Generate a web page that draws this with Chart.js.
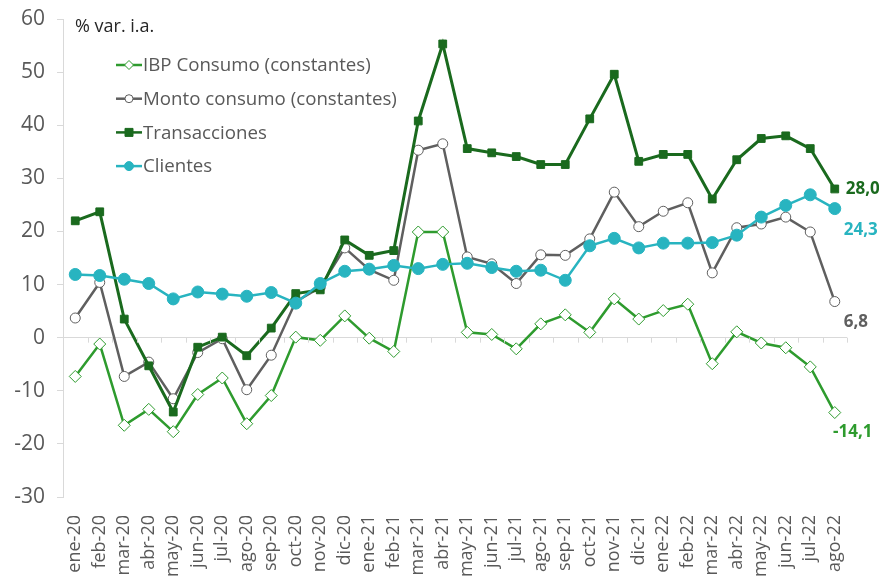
<!DOCTYPE html>
<html lang="es">
<head>
<meta charset="UTF-8">
<title>% var. i.a.</title>
<style>
  * { margin: 0; padding: 0; box-sizing: border-box; }
  body { background: #fff; width: 879px; height: 577px; overflow: hidden; }
  .wrap { position: relative; width: 879px; height: 577px; }
</style>
</head>
<body>
<div class="wrap"><canvas id="chart" width="879" height="577"></canvas></div>
<script src="https://cdn.jsdelivr.net/npm/chart.js"></script>
<script>
const months = ['ene-20','feb-20','mar-20','abr-20','may-20','jun-20','jul-20','ago-20','sep-20','oct-20','nov-20','dic-20',
  'ene-21','feb-21','mar-21','abr-21','may-21','jun-21','jul-21','ago-21','sep-21','oct-21','nov-21','dic-21',
  'ene-22','feb-22','mar-22','abr-22','may-22','jun-22','jul-22','ago-22'];

const ibpConsumo = [-7.3,-1.2,-16.5,-13.5,-17.7,-10.7,-7.6,-16.2,-10.9,0.1,-0.5,4.1,
  -0.1,-2.6,19.9,19.9,1.0,0.6,-2.1,2.6,4.3,1.0,7.3,3.5,
  5.1,6.3,-4.9,1.1,-1.0,-1.9,-5.5,-14.1];
const montoConsumo = [3.7,10.4,-7.3,-4.6,-11.5,-2.8,-0.2,-9.8,-3.3,6.8,9.5,16.9,
  12.8,10.8,35.3,36.5,15.2,13.9,10.2,15.6,15.5,18.6,27.4,20.9,
  23.8,25.4,12.2,20.7,21.4,22.7,19.9,6.8];
const transacciones = [22.0,23.7,3.5,-5.3,-14.0,-1.8,0.1,-3.4,1.8,8.3,9.0,18.4,
  15.5,16.4,40.8,55.3,35.6,34.8,34.1,32.6,32.6,41.2,49.6,33.2,
  34.5,34.5,26.1,33.5,37.5,38.0,35.6,28.0];
const clientes = [11.9,11.7,11.0,10.2,7.3,8.6,8.2,7.8,8.5,6.5,10.2,12.5,
  12.9,13.6,13.0,13.8,14.0,13.2,12.5,12.7,10.8,17.3,18.7,16.9,
  17.8,17.8,17.9,19.3,22.7,24.9,26.9,24.3];

const yTicks = [-30,-20,-10,0,10,20,30,40,50,60];

const cIbp = '#2e9b2e';
const cMonto = '#5f5f5f';
const cTrans = '#1a6a1e';
const cCli = '#28b4c0';

const FONT = "'Open Sans', 'Noto Sans', sans-serif";

// legend + title + last-value labels + zero-line ticks
const extras = {
  id: 'extras',
  afterDraw(chart) {
    const ctx = chart.ctx;
    const x = chart.scales.x, y = chart.scales.y;
    ctx.save();

    // small tick marks along the zero line
    const y0 = y.getPixelForValue(0);
    const half = (x.getPixelForValue(1) - x.getPixelForValue(0)) / 2;
    ctx.strokeStyle = '#d9d9d9';
    ctx.lineWidth = 1;
    for (let i = 0; i <= months.length; i++) {
      const px = Math.round(x.getPixelForValue(i) - half) + 0.5;
      ctx.beginPath();
      ctx.moveTo(px, y0);
      ctx.lineTo(px, y0 + 5);
      ctx.stroke();
    }

    // title
    ctx.fillStyle = '#262626';
    ctx.font = "18px " + FONT;
    ctx.textBaseline = 'middle';
    ctx.textAlign = 'left';
    ctx.fillText('% var. i.a.', 75, 27);

    // legend, in the original order
    chart.data.datasets.forEach((ds, i) => {
      const ly = 65 + i * 33.7;
      ctx.strokeStyle = ds.borderColor;
      ctx.lineWidth = 2.5;
      ctx.beginPath();
      ctx.moveTo(116, ly);
      ctx.lineTo(142, ly);
      ctx.stroke();
      const cx = 129;
      ctx.fillStyle = ds.pointBackgroundColor;
      ctx.strokeStyle = ds.pointBorderColor;
      ctx.lineWidth = 1;
      ctx.beginPath();
      if (ds.pointStyle === 'rectRot') {
        ctx.moveTo(cx, ly - 4.5); ctx.lineTo(cx + 4.5, ly); ctx.lineTo(cx, ly + 4.5); ctx.lineTo(cx - 4.5, ly); ctx.closePath();
      } else if (ds.pointStyle === 'rect') {
        ctx.rect(cx - 4, ly - 4, 8, 8);
      } else {
        ctx.arc(cx, ly, ds.label === 'Clientes' ? 4.5 : 4, 0, Math.PI * 2);
      }
      ctx.fill();
      ctx.stroke();
      ctx.fillStyle = '#595959';
      ctx.font = "18.7px " + FONT;
      ctx.fillText(ds.label, 143, ly + 1);
    });

    // last-value labels
    const last = months.length - 1;
    const lx = x.getPixelForValue(last);
    const labels = [
      { v: transacciones[last], c: cTrans, dx: 11, dy: 0, align: 'left' },
      { v: clientes[last], c: cCli, dx: 9, dy: 22, align: 'left' },
      { v: montoConsumo[last], c: cMonto, dx: 9, dy: 21, align: 'left' },
      { v: ibpConsumo[last], c: cIbp, dx: 18, dy: 20, align: 'center' }
    ];
    ctx.font = "bold 17px " + FONT;
    labels.forEach(l => {
      ctx.fillStyle = l.c;
      ctx.textAlign = l.align;
      ctx.fillText(l.v.toFixed(1).replace('.', ','), lx + l.dx, y.getPixelForValue(l.v) + l.dy);
    });
    ctx.restore();
  }
};

new Chart(document.getElementById('chart'), {
  type: 'line',
  data: {
    labels: months,
    datasets: [
      { label: 'IBP Consumo (constantes)', data: ibpConsumo, borderColor: cIbp, borderWidth: 2.5, order: 4,
        pointStyle: 'rectRot', pointRadius: 6, pointBackgroundColor: '#ffffff', pointBorderColor: cIbp, pointBorderWidth: 1 },
      { label: 'Monto consumo (constantes)', data: montoConsumo, borderColor: cMonto, borderWidth: 2.5, order: 3,
        pointStyle: 'circle', pointRadius: 5, pointBackgroundColor: '#ffffff', pointBorderColor: cMonto, pointBorderWidth: 1 },
      { label: 'Transacciones', data: transacciones, borderColor: cTrans, borderWidth: 3, order: 2,
        pointStyle: 'rect', pointRadius: 5.5, pointBackgroundColor: cTrans, pointBorderColor: cTrans, pointBorderWidth: 1 },
      { label: 'Clientes', data: clientes, borderColor: cCli, borderWidth: 2.5, order: 1,
        pointStyle: 'circle', pointRadius: 6, pointBackgroundColor: cCli, pointBorderColor: cCli, pointBorderWidth: 1 }
    ]
  },
  options: {
    responsive: false,
    animation: false,
    layout: { padding: { top: 19, right: 32, left: 0, bottom: 0 } },
    plugins: { legend: { display: false }, tooltip: { enabled: false } },
    elements: { line: { tension: 0 } },
    scales: {
      x: {
        offset: true,
        grid: { display: false },
        border: { display: false },
        ticks: { color: '#595959', font: { size: 18, family: FONT }, minRotation: 90, maxRotation: 90, autoSkip: false, padding: 10 },
        afterFit(s) { s.height = 80; s.paddingLeft = 0; s.paddingRight = 0; }
      },
      y: {
        min: -30, max: 60,
        afterBuildTicks(s) { s.ticks = yTicks.map(v => ({ value: v })); },
        grid: {
          color: c => (c.tick && c.tick.value === 0 ? '#d9d9d9' : 'rgba(0,0,0,0)'),
          tickColor: '#d9d9d9', tickLength: 6, lineWidth: 1
        },
        border: { color: '#d9d9d9' },
        ticks: { color: '#595959', font: { size: 21, family: FONT }, padding: 12 },
        afterFit(s) { s.width = 63; s.paddingTop = 0; s.paddingBottom = 0; }
      }
    }
  },
  plugins: [extras]
});
</script>
</body>
</html>
